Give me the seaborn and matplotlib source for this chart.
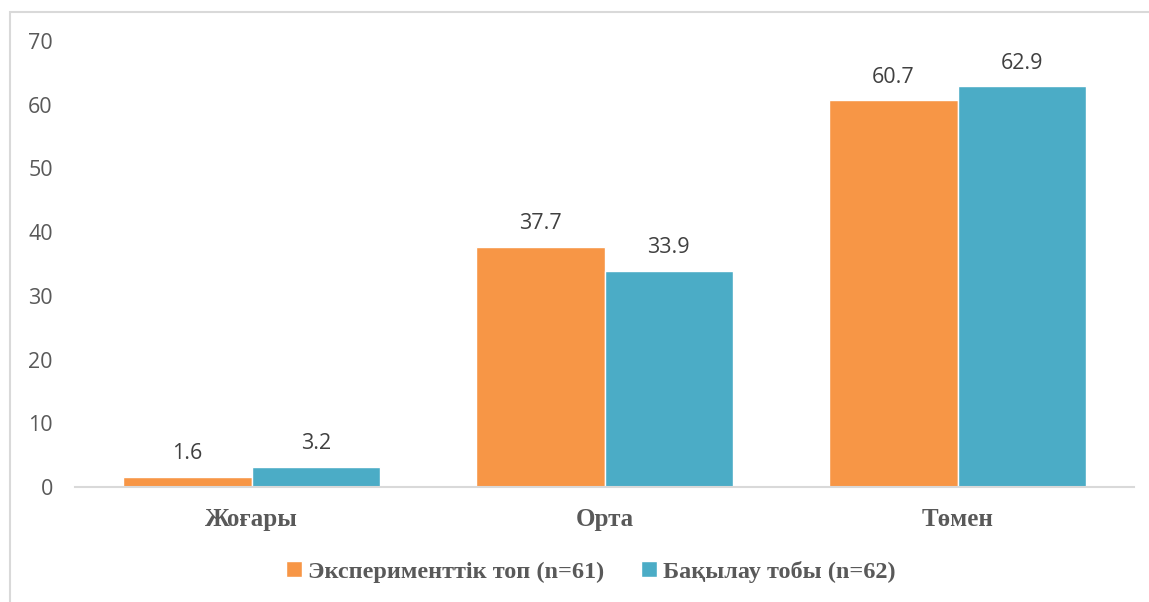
import matplotlib
matplotlib.use('Agg')
import matplotlib.pyplot as plt
from matplotlib.patches import Rectangle
import seaborn as sns
import pandas as pd

# categories and series values
levels = ['Жоғары', 'Орта', 'Төмен']
groups = ['Эксперименттік топ (n=61)', 'Бақылау тобы (n=62)']
exp_values = [1.6, 37.7, 60.7]
ctrl_values = [3.2, 33.9, 62.9]
colors = ['#F79646', '#4BACC6']

df = pd.DataFrame({
    'level': levels * 2,
    'group': [groups[0]] * 3 + [groups[1]] * 3,
    'value': exp_values + ctrl_values,
})

sns.set_style('white')
plt.rcParams['font.family'] = ['Open Sans', 'DejaVu Sans']

fig = plt.figure(figsize=(11.49, 6.02), dpi=100)
ax = fig.add_axes([0.0653, 0.191, 0.9217, 0.741])

sns.barplot(data=df, x='level', y='value', hue='group', palette=colors,
            width=0.728, saturation=1, ax=ax, legend=True)

for c in ax.containers:
    ax.bar_label(c, fmt='%.1f', padding=9, fontsize=15.5, color='#404040')

ax.set_ylim(0, 70)
ax.set_yticks(range(0, 71, 10))
ax.set_xlim(-0.5, 2.5)
ax.set_xlabel('')
ax.set_ylabel('')
ax.tick_params(axis='y', labelsize=15.5, labelcolor='#595959', length=0, pad=16)
ax.tick_params(axis='x', length=0, pad=15)
for lab in ax.get_xticklabels():
    lab.set_fontfamily('Liberation Serif')
    lab.set_fontweight('bold')
    lab.set_fontsize(18)
    lab.set_color('#595959')

for side in ['top', 'right', 'left']:
    ax.spines[side].set_visible(False)
ax.spines['bottom'].set_color('#D9D9D9')
ax.spines['bottom'].set_linewidth(1.5)

handles, labels = ax.get_legend_handles_labels()
ax.legend(handles, labels, loc='center', bbox_to_anchor=(0.487, -0.19),
          ncol=2, frameon=False, handlelength=0.65, handleheight=0.65,
          handletextpad=0.25, columnspacing=1.5,
          prop={'family': 'Liberation Serif', 'weight': 'bold', 'size': 17.5})
for t in ax.get_legend().get_texts():
    t.set_color('#595959')

# chart area border
fig.patches.append(Rectangle((10 / 1149, -0.1), 1.2, 1 - 12 / 602 + 0.1,
                             transform=fig.transFigure, fill=False,
                             edgecolor='#D9D9D9', linewidth=1.5))

fig.savefig('out.png', dpi=100)
